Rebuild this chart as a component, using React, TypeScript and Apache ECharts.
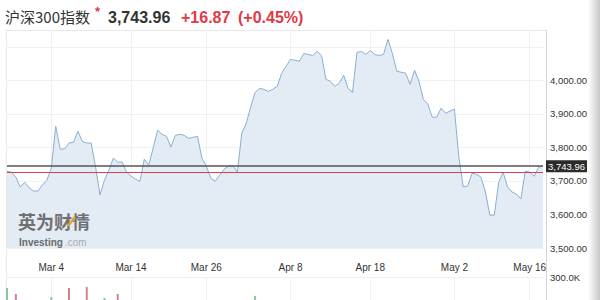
import React, { useEffect, useRef } from 'react';
import * as echarts from 'echarts';

const TITLE = '沪深300指数';
const prevClose = 3727.09;

// close values, one per sampled point (left to right)
const closeValues = [
  3729, 3726, 3711, 3682, 3696, 3679, 3670, 3670, 3688, 3702,
  3738, 3863, 3795, 3795, 3813, 3815, 3848, 3818, 3813, 3813,
  3741, 3658, 3702, 3732, 3768, 3756, 3756, 3726, 3714, 3705,
  3699, 3765, 3747, 3798, 3851, 3839, 3833, 3801, 3836, 3839,
  3836, 3827, 3830, 3833, 3768, 3744, 3708, 3699, 3717, 3735,
  3744, 3746, 3726, 3842, 3872, 3920, 3964, 3976, 3973, 3967,
  3973, 3982, 4021, 4042, 4062, 4060, 4057, 4080, 4077, 4074,
  4086, 4074, 4003, 3997, 3982, 3991, 4015, 3976, 3964, 4083,
  4086, 4077, 4089, 4077, 4074, 4077, 4122, 4080, 4027, 4024,
  4021, 3988, 4030, 3997, 3943, 3929, 3890, 3890, 3917, 3902,
  3908, 3914, 3771, 3682, 3685, 3723, 3720, 3711, 3667, 3598,
  3598, 3696, 3726, 3682, 3667, 3661, 3646, 3729, 3726, 3714,
  3741, 3743.96,
];

const tickLabels = ['Mar 4', 'Mar 14', 'Mar 26', 'Apr 8', 'Apr 18', 'May 2', 'May 16'];
const tickIndex = [10, 28, 45, 64, 82, 101, 118];

// visible volume bars: [point index, volume]
const volUp = [[0, 245000], [10, 200000], [22, 195000], [56, 205000]];
const volDown = [[2, 215000], [14, 245000], [18, 250000], [25, 215000]];

const fmt = (v: number) => v.toFixed(2).replace(/\B(?=(\d{3})+(?!\d))/g, ',');

export default function App() {
  const ref = useRef<HTMLDivElement>(null);
  useEffect(() => {
    if (!ref.current) return;
    const chart = echarts.init(ref.current, null, { renderer: 'svg' });
    const cats = closeValues.map((_, i) => String(i));
    const last = closeValues[closeValues.length - 1];
    const change = last - prevClose;
    const pct = (change / prevClose) * 100;
    const red = '#df3a46';
    const isTick = (i: number) => tickIndex.includes(i);
    const latin = '"Liberation Sans", Arial, sans-serif';

    chart.setOption({
      animation: false,
      textStyle: { fontFamily: latin },
      grid: [
        { left: 7, top: 30, width: 536, height: 218, outerBoundsMode: 'none', containLabel: false },
        { left: 7, top: 277, width: 536, height: 60, outerBoundsMode: 'none', containLabel: false },
      ],
      xAxis: [
        {
          type: 'category', gridIndex: 0, data: cats, boundaryGap: false,
          axisLine: { show: false }, axisTick: { show: false },
          axisLabel: {
            interval: (i: number) => isTick(i),
            formatter: (v: string) => {
              const k = tickIndex.indexOf(Number(v));
              return k >= 0 ? tickLabels[k] : '';
            },
            margin: 14, fontSize: 10, color: '#333', fontFamily: latin,
          },
          splitLine: { show: true, interval: (i: number) => isTick(i), lineStyle: { color: '#f1f1f1' } },
        },
        {
          type: 'category', gridIndex: 1, data: cats, boundaryGap: false,
          axisLine: { show: false }, axisTick: { show: false }, axisLabel: { show: false },
          splitLine: { show: true, interval: (i: number) => isTick(i), lineStyle: { color: '#f1f1f1' } },
        },
      ],
      yAxis: [
        {
          type: 'value', gridIndex: 0, position: 'right', min: 3500, max: 4150, interval: 100,
          axisLine: { show: false }, axisTick: { show: false },
          axisLabel: {
            margin: 7, fontSize: 9.5, color: '#333', fontFamily: latin,
            formatter: (v: number) => (v > 4050 ? '' : fmt(v)),
          },
          splitLine: { lineStyle: { color: '#f1f1f1' } },
        },
        {
          type: 'value', gridIndex: 1, position: 'right', min: 0, max: 300000, interval: 300000,
          axisLine: { show: false }, axisTick: { show: false },
          axisLabel: {
            margin: 7, fontSize: 9.5, color: '#333', fontFamily: latin,
            formatter: (v: number) => (v === 300000 ? (v / 1000).toFixed(1) + 'K' : ''),
          },
          splitLine: { lineStyle: { color: '#eeeeee' } },
        },
      ],
      series: [
        {
          type: 'line', xAxisIndex: 0, yAxisIndex: 0, data: closeValues, symbol: 'none',
          lineStyle: { color: '#8aaed2', width: 1 },
          areaStyle: { color: '#e3ecf5', opacity: 1 },
          z: 2,
          markLine: {
            symbol: ['none', 'none'], silent: true, animation: false,
            data: [
              { yAxis: prevClose, lineStyle: { color: '#d9414c', width: 1, type: 'solid' }, label: { show: false } },
              {
                yAxis: last, lineStyle: { color: '#555', width: 1.5, type: 'solid' },
                label: {
                  show: true, position: 'end', distance: 3, formatter: fmt(last),
                  backgroundColor: '#2b2b2b', color: '#fff', padding: [1, 2, 1, 2],
                  fontSize: 9.5, fontFamily: latin,
                },
              },
            ],
          },
        },
        {
          type: 'bar', xAxisIndex: 1, yAxisIndex: 1, data: volUp, barWidth: 2, barGap: '-100%',
          itemStyle: { color: '#8cc59b' }, clip: false,
        },
        {
          type: 'bar', xAxisIndex: 1, yAxisIndex: 1, data: volDown, barWidth: 2, barGap: '-100%',
          itemStyle: { color: '#d9808a' }, clip: false,
        },
      ],
      graphic: [
        { type: 'line', shape: { x1: 6.5, y1: 30, x2: 6.5, y2: 300 }, style: { stroke: '#e8e8e8', lineWidth: 1 }, z: 1 },
        { type: 'line', shape: { x1: 6, y1: 30.5, x2: 546, y2: 30.5 }, style: { stroke: '#e8e8e8', lineWidth: 1 }, z: 1 },
        { type: 'line', shape: { x1: 546.5, y1: 30, x2: 546.5, y2: 300 }, style: { stroke: '#d4d4d4', lineWidth: 1 }, z: 1 },
        {
          type: 'rect', shape: { x: 588, y: 0, width: 12, height: 300 }, z: 10,
          style: {
            fill: new echarts.graphic.LinearGradient(0, 0, 1, 0, [
              { offset: 0, color: 'rgba(0,0,0,0)' },
              { offset: 1, color: 'rgba(0,0,0,0.22)' },
            ]),
          },
        },
        {
          type: 'text', x: 5, y: 16, z: 10,
          style: { text: TITLE, font: '15px "Noto Sans CJK SC"', fill: '#333', verticalAlign: 'middle' },
        },
        {
          type: 'text', x: 95, y: 11, z: 10,
          style: { text: '*', font: 'bold 13px "Liberation Sans"', fill: red, verticalAlign: 'middle' },
        },
        {
          type: 'text', x: 108, y: 17, z: 10,
          style: { text: fmt(last), font: 'bold 16px "Liberation Sans"', fill: '#333', verticalAlign: 'middle' },
        },
        {
          type: 'text', x: 181, y: 17, z: 10,
          style: { text: (change >= 0 ? '+' : '') + change.toFixed(2), font: 'bold 16px "Liberation Sans"', fill: red, verticalAlign: 'middle' },
        },
        {
          type: 'text', x: 238, y: 17, z: 10,
          style: { text: '(' + (pct >= 0 ? '+' : '') + pct.toFixed(2) + '%)', font: 'bold 16px "Liberation Sans"', fill: red, verticalAlign: 'middle' },
        },
        {
          type: 'text', x: 18, y: 221, z: 5,
          style: { text: '英为财情', font: 'bold 18px "Noto Sans CJK SC"', fill: '#707070', verticalAlign: 'middle', lineHeight: 18 },
        },
        { type: 'line', shape: { x1: 68, y1: 226, x2: 75, y2: 217 }, style: { stroke: '#f0a030', lineWidth: 2.5 }, z: 6 },
        {
          type: 'text', x: 19, y: 242, z: 5,
          style: { text: 'Investing', font: 'bold 10px "Liberation Sans"', fill: '#6a6a6a', verticalAlign: 'middle', lineHeight: 10 },
        },
        {
          type: 'text', x: 65, y: 242, z: 5,
          style: { text: '.com', font: '10px "Liberation Sans"', fill: '#aaaaaa', verticalAlign: 'middle', lineHeight: 10 },
        },
      ],
    });
    return () => chart.dispose();
  }, []);
  return <div ref={ref} style={{ position: 'fixed', left: 0, top: 0, width: 600, height: 300, background: '#fff' }} />;
}
